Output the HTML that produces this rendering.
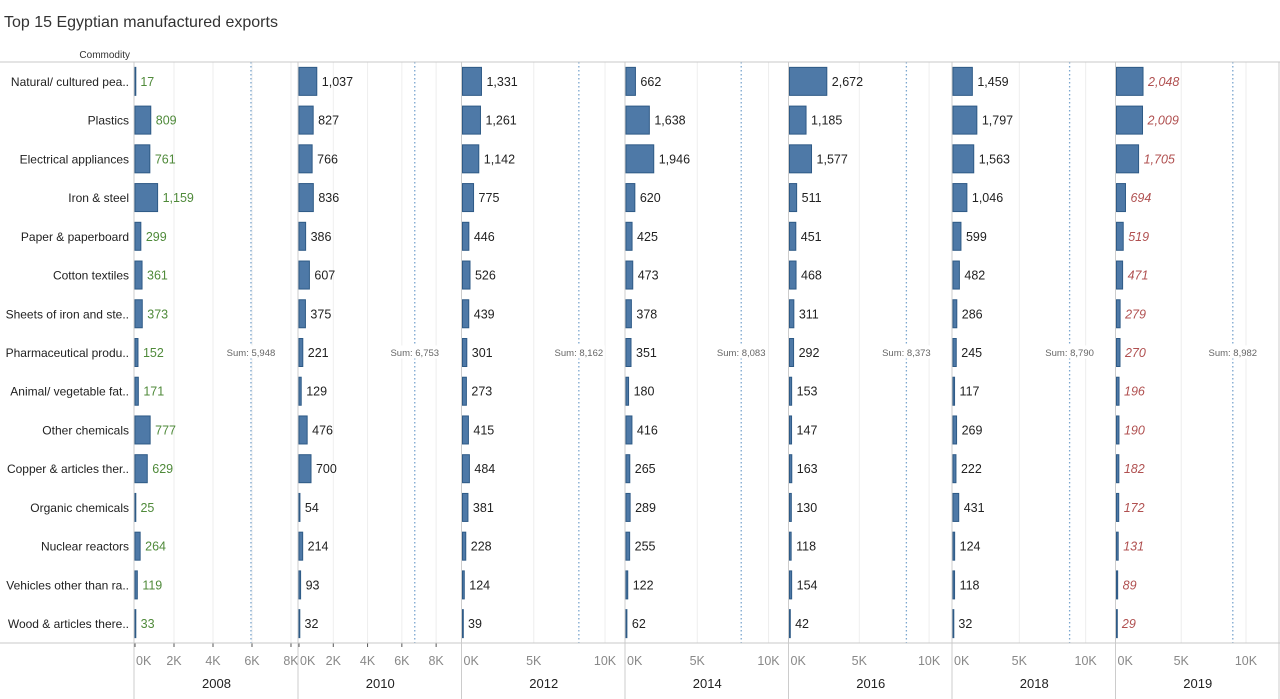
<!DOCTYPE html>
<html><head><meta charset="utf-8"><style>
body{margin:0;background:#fff;}
svg{display:block;font-family:"Liberation Sans","DejaVu Sans",sans-serif;}
</style></head><body>
<svg id="chart" width="1280" height="699" viewBox="0 0 1280 699"></svg>
<script>
const categories=["Natural/ cultured pea..","Plastics","Electrical appliances","Iron & steel","Paper & paperboard","Cotton textiles","Sheets of iron and ste..","Pharmaceutical produ..","Animal/ vegetable fat..","Other chemicals","Copper & articles ther..","Organic chemicals","Nuclear reactors","Vehicles other than ra..","Wood & articles there.."];
const years=["2008","2010","2012","2014","2016","2018","2019"];
const v2008=[17,809,761,1159,299,361,373,152,171,777,629,25,264,119,33];
const v2010=[1037,827,766,836,386,607,375,221,129,476,700,54,214,93,32];
const v2012=[1331,1261,1142,775,446,526,439,301,273,415,484,381,228,124,39];
const v2014=[662,1638,1946,620,425,473,378,351,180,416,265,289,255,122,62];
const v2016=[2672,1185,1577,511,451,468,311,292,153,147,163,130,118,154,42];
const v2018=[1459,1797,1563,1046,599,482,286,245,117,269,222,431,124,118,32];
const v2019=[2048,2009,1705,694,519,471,279,270,196,190,182,172,131,89,29];
const sums=[5948,6753,8162,8083,8373,8790,8982];
const axisMax=[8360,9480,11400,11400,11640,12250,12550];
const ticks2008=[0,2000,4000,6000,8000];
const ticks2010=[0,2000,4000,6000,8000];
const ticksWide=[0,5000,10000];
const series=[v2008,v2010,v2012,v2014,v2016,v2018,v2019];
const tickSets=[ticks2008,ticks2010,ticksWide,ticksWide,ticksWide,ticksWide,ticksWide];

const svg=document.getElementById('chart');
const NS='http://www.w3.org/2000/svg';
function mk(tag,attrs,parent,text){const e=document.createElementNS(NS,tag);for(const k in attrs)e.setAttribute(k,attrs[k]);if(text!==undefined)e.textContent=text;(parent||svg).appendChild(e);return e;}
const fmt=n=>n.toLocaleString('en-US');
const panelX=[134,298,461.5,625,788.5,952,1115.5,1279];
const plotTop=62,plotBottom=643,rowH=(plotBottom-plotTop)/categories.length;
const yRow=i=>plotTop+rowH*(i+0.5);

let t=mk('text',{x:4,y:27,'font-size':16,fill:'#333'},svg,'Top 15 Egyptian manufactured exports');


t=mk('text',{x:130,y:58,'font-size':10,fill:'#333','text-anchor':'end'},svg,'Commodity');



categories.forEach((c,i)=>{
  const l=mk('text',{x:129,y:yRow(i)+4.5,'font-size':12,fill:'#222','text-anchor':'end'},svg,c);
  
  
});

years.forEach((yr,p)=>{
  const x0=panelX[p]+1,x1=panelX[p+1];
  const sc=v=>x0+(v/axisMax[p])*(x1-x0);
  const g=mk('g',{});
  
  
  tickSets[p].forEach((tv,k)=>{
    if(tv>0){const gl=mk('line',{x1:sc(tv),x2:sc(tv),y1:plotTop,y2:plotBottom,stroke:'#eeeeee','stroke-width':1},g);
      
      }
    if(p<2){const tm=mk('line',{x1:sc(tv),x2:sc(tv),y1:plotBottom,y2:plotBottom+4,stroke:'#555'},g);
      
      }
    const lbl=mk('text',{x:k===0?x0+1:sc(tv),y:665,'font-size':12.5,fill:'#888','text-anchor':k===0?'start':'middle'},g,(tv/1000)+'K');
    
    
  });
  const sx=sc(sums[p]);
  const rl=mk('line',{x1:sx,x2:sx,y1:plotTop,y2:plotBottom,stroke:'#7aa6cf','stroke-width':1.3,'stroke-dasharray':'1.5,2.5'},g);
  
  
  mk('rect',{x:sx-26,y:yRow(7)-7,width:52,height:13,fill:'#fff'},g);
  const sl=mk('text',{x:sx,y:yRow(7)+3.5,'font-size':9.5,fill:'#666','text-anchor':'middle'},g,'Sum: '+fmt(sums[p]));
  
  
  series[p].forEach((v,i)=>{
    const w=sc(v)-x0;
    const b=mk('rect',{x:x0,y:yRow(i)-14,width:Math.max(w,0.8),height:28,fill:'#4e79a7',stroke:'#2e5a86','stroke-width':1},g);
    
    
    const col=p===0?'#4f8a3a':(p===6?'#b05050':'#222');
    const vl=mk('text',{x:x0+w+5,y:yRow(i)+4.5,'font-size':12.5,fill:col,'font-style':p===6?'italic':'normal'},g,fmt(v));
    
    
  });
  const yl=mk('text',{x:(x0+x1)/2,y:688,'font-size':13,fill:'#222','text-anchor':'middle'},g,yr);
  
  
});

panelX.forEach(px=>{
  const d=mk('line',{x1:px,x2:px,y1:plotTop,y2:699,stroke:'#cccccc','stroke-width':1});
  
  
});
[plotTop,plotBottom].forEach(y=>{
  const h=mk('line',{x1:0,x2:1280,y1:y,y2:y,stroke:'#c8c8c8','stroke-width':1});
  
  
});
</script>
</body></html>
